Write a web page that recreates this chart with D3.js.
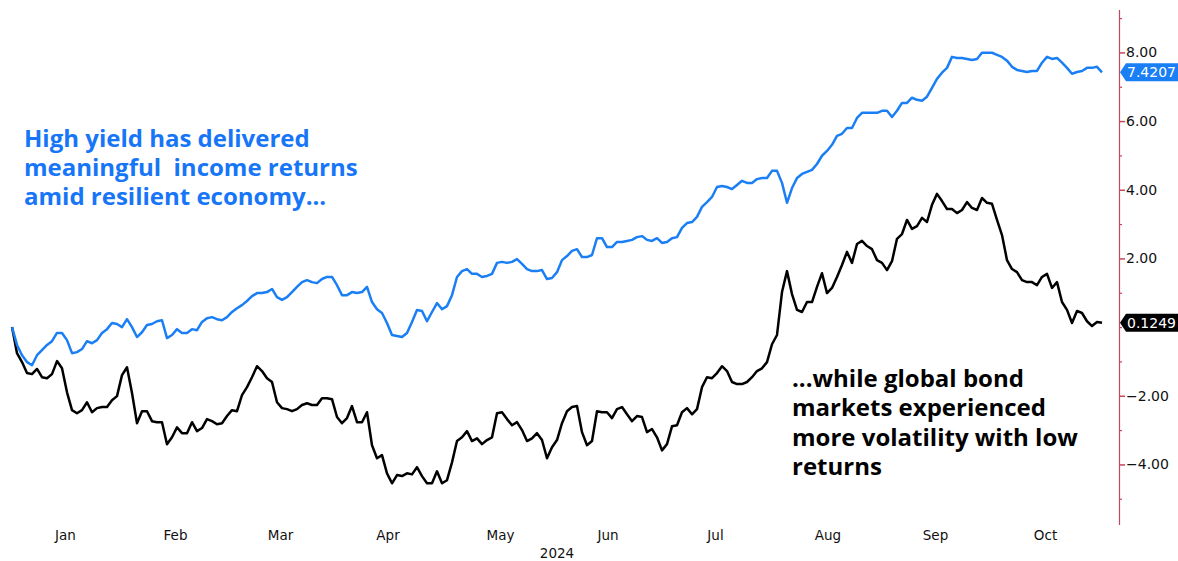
<!DOCTYPE html>
<html>
<head>
<meta charset="utf-8">
<script src="https://cdn.jsdelivr.net/npm/d3@7"></script>
<style>
  body { margin: 0; background: #fff; }
  svg { display: block; font-family: "DejaVu Sans", sans-serif; }
</style>
</head>
<body>
<div id="chart"></div>
<script>
// cumulative total return, %, one value per trading day from 1 Jan 2024
var highYield = [
  0, -0.52, -0.82, -1.02, -1.11, -0.82, -0.67, -0.52, -0.41, -0.17,
  -0.17, -0.38, -0.76, -0.73, -0.64, -0.41, -0.47, -0.38, -0.17, -0.06,
  0.12, 0.09, 0.00, 0.23, 0.00, -0.29, -0.15, 0.06, 0.09, 0.17,
  0.20, -0.32, -0.23, -0.06, -0.17, -0.17, -0.06, -0.09, 0.15, 0.26,
  0.29, 0.23, 0.20, 0.29, 0.44, 0.55, 0.64, 0.76, 0.90, 0.99,
  0.99, 1.02, 1.11, 0.87, 0.79, 0.87, 1.02, 1.17, 1.31, 1.37,
  1.31, 1.28, 1.40, 1.46, 1.46, 1.22, 0.93, 0.93, 1.02, 0.99,
  1.02, 1.17, 0.73, 0.52, 0.41, 0.12, -0.23, -0.26, -0.29, -0.17,
  0.15, 0.50, 0.47, 0.17, 0.44, 0.70, 0.52, 0.61, 0.93, 1.46,
  1.63, 1.69, 1.55, 1.55, 1.46, 1.49, 1.55, 1.87, 1.90, 1.87,
  1.90, 1.98, 1.84, 1.69, 1.63, 1.63, 1.66, 1.40, 1.43, 1.60,
  1.95, 2.07, 2.22, 2.27, 2.04, 2.04, 2.10, 2.59, 2.59, 2.33,
  2.33, 2.48, 2.48, 2.51, 2.54, 2.62, 2.65, 2.54, 2.51, 2.59,
  2.45, 2.48, 2.59, 2.62, 2.89, 3.03, 3.06, 3.21, 3.50, 3.64,
  3.79, 4.08, 4.11, 4.08, 4.02, 4.14, 4.26, 4.20, 4.20, 4.31,
  4.34, 4.34, 4.55, 4.55, 4.20, 3.62, 4.05, 4.34, 4.46, 4.52,
  4.58, 4.75, 4.99, 5.13, 5.31, 5.57, 5.63, 5.80, 5.80, 6.09,
  6.24, 6.24, 6.24, 6.24, 6.30, 6.30, 6.12, 6.30, 6.53, 6.53,
  6.68, 6.62, 6.59, 6.71, 6.97, 7.23, 7.41, 7.55, 7.87, 7.84,
  7.84, 7.81, 7.78, 7.81, 7.99, 7.99, 7.99, 7.93, 7.87, 7.76,
  7.58, 7.49, 7.46, 7.43, 7.46, 7.46, 7.70, 7.87, 7.81, 7.84,
  7.70, 7.55, 7.38, 7.43, 7.46, 7.55, 7.55, 7.58, 7.4207
]

var globalBonds = [
  0, -0.76, -1.02, -1.34, -1.37, -1.22, -1.46, -1.49, -1.37, -0.99,
  -1.20, -1.90, -2.42, -2.51, -2.42, -2.19, -2.48, -2.36, -2.33, -2.33,
  -2.13, -2.01, -1.40, -1.17, -1.92, -2.80, -2.45, -2.45, -2.74, -2.77,
  -2.77, -3.41, -3.21, -2.92, -3.09, -3.09, -2.77, -3.03, -2.94, -2.68,
  -2.74, -2.83, -2.80, -2.59, -2.42, -2.45, -1.98, -1.75, -1.46, -1.14,
  -1.28, -1.49, -1.60, -2.19, -2.36, -2.39, -2.45, -2.39, -2.27, -2.22,
  -2.27, -2.27, -2.07, -2.07, -2.10, -2.62, -2.80, -2.65, -2.30, -2.77,
  -2.77, -2.48, -3.44, -3.82, -3.73, -4.26, -4.55, -4.31, -4.34, -4.26,
  -4.29, -4.08, -4.34, -4.55, -4.55, -4.20, -4.55, -4.46, -3.94, -3.32,
  -3.21, -3.03, -3.32, -3.24, -3.41, -3.29, -3.21, -2.51, -2.48, -2.68,
  -2.86, -2.77, -3.00, -3.32, -3.24, -3.09, -3.29, -3.82, -3.50, -3.29,
  -2.80, -2.45, -2.33, -2.30, -3.06, -3.44, -3.32, -2.45, -2.48, -2.48,
  -2.65, -2.39, -2.33, -2.54, -2.74, -2.59, -2.62, -3.06, -2.97, -3.21,
  -3.59, -3.41, -2.89, -2.86, -2.48, -2.36, -2.54, -2.39, -1.75, -1.46,
  -1.49, -1.34, -1.14, -1.28, -1.60, -1.66, -1.66, -1.60, -1.46, -1.28,
  -1.20, -1.02, -0.50, -0.23, 1.02, 1.63, 0.96, 0.50, 0.44, 0.73,
  0.73, 1.17, 1.57, 0.99, 1.14, 1.46, 1.81, 2.19, 1.87, 2.42,
  2.51, 2.36, 2.27, 1.95, 1.87, 1.66, 1.92, 2.57, 2.71, 3.12,
  2.86, 2.94, 3.18, 3.06, 3.56, 3.88, 3.67, 3.44, 3.44, 3.32,
  3.41, 3.64, 3.47, 3.41, 3.76, 3.62, 3.59, 3.12, 2.68, 1.95,
  1.69, 1.60, 1.37, 1.31, 1.31, 1.22, 1.46, 1.55, 1.14, 1.31,
  0.73, 0.50, 0.12, 0.47, 0.41, 0.17, 0.03, 0.15, 0.1249
]

var monthLabels = ['Jan', 'Feb', 'Mar', 'Apr', 'May', 'Jun', 'Jul', 'Aug', 'Sep', 'Oct']
var yearLabel = '2024'
var majorTicks = [-4, -2, 2, 4, 6, 8]
var minorTicks = [-5, -3, -1, 1, 3, 5, 7, 9]

var hyNote = ['High yield has delivered', 'meaningful  income returns', 'amid resilient economy...']
var bondNote = ['...while global bond', 'markets experienced', 'more volatility with low', 'returns']

var blue = '#1a7ff4'
  , noteBlue = '#1776f7'
  , axisRed = '#c5465f'
  , labelFont = '"DejaVu Sans", sans-serif'

// trading days, Jan 1 2024 onwards
var days = d3.timeDay.range(new Date(2024, 0, 1), new Date(2024, 11, 31))
  .filter(function(d) { return d.getDay() > 0 && d.getDay() < 6 })
  .slice(0, highYield.length)

var width = 1178
  , height = 561
  , svg = d3.select('#chart').append('svg')
    .attr('width', width)
    .attr('height', height)
  , x = d3.scaleLinear()
    .domain([0, days.length - 1])
    .range([12, 1102])
  , y = d3.scaleLinear()
    .domain([-5.75, 9.25])
    .range([524.5, 9.5])

// month labels sit in the middle of each month's trading days
var monthCenters = monthLabels.map(function(m, i) {
  var idx = d3.range(days.length).filter(function(k) { return days[k].getMonth() === i })
  return d3.mean(idx)
})

var xAxis = svg.append('g')
  .attr('transform', 'translate(-2,527)')
  .call(d3.axisBottom(x)
    .tickValues(monthCenters)
    .tickSize(0)
    .tickPadding(3)
    .tickFormat(function(d, i) { return monthLabels[i] }))
xAxis.attr('font-family', labelFont).attr('font-size', 13.5)
xAxis.select('.domain').remove()
xAxis.selectAll('text').attr('fill', '#111')

svg.append('text')
  .attr('x', 557)
  .attr('y', 558)
  .attr('text-anchor', 'middle')
  .attr('font-family', labelFont)
  .attr('font-size', 13.5)
  .attr('fill', '#111')
  .text(yearLabel)

// right axis
var yAxis = svg.append('g')
  .attr('transform', 'translate(1119,0)')
  .call(d3.axisRight(y)
    .tickValues(majorTicks)
    .tickSize(6)
    .tickSizeOuter(0)
    .tickPadding(1)
    .tickFormat(d3.format('.2f')))
yAxis.attr('font-family', labelFont).attr('font-size', 14)
yAxis.select('.domain').attr('stroke', axisRed).attr('stroke-width', 1.2)
yAxis.selectAll('.tick line').attr('stroke', axisRed).attr('stroke-width', 1.5)
yAxis.selectAll('text').attr('fill', '#111')

var minorAxis = svg.append('g')
  .attr('transform', 'translate(1119,0)')
  .call(d3.axisRight(y)
    .tickValues(minorTicks.concat([0]))
    .tickSize(3)
    .tickSizeOuter(0)
    .tickFormat(''))
minorAxis.select('.domain').remove()
minorAxis.selectAll('.tick line').attr('stroke', axisRed).attr('stroke-width', 1.2)

// the two lines
var line = d3.line()
  .x(function(d, i) { return x(i) })
  .y(function(d) { return y(d) })

svg.append('path')
  .datum(globalBonds)
  .attr('d', line)
  .attr('fill', 'none')
  .attr('stroke', '#000')
  .attr('stroke-width', 2.5)
  .attr('stroke-linejoin', 'round')

svg.append('path')
  .datum(highYield)
  .attr('d', line)
  .attr('fill', 'none')
  .attr('stroke', blue)
  .attr('stroke-width', 2.5)
  .attr('stroke-linejoin', 'round')

// last value tags on the axis
function valueTag(value, fill) {
  var ty = y(value)
  svg.append('path')
    .attr('d', 'M1120,' + ty + ' L1126,' + (ty - 9) + ' L1178,' + (ty - 9) + ' L1178,' + (ty + 9) + ' L1126,' + (ty + 9) + ' Z')
    .attr('fill', fill)
  svg.append('text')
    .attr('x', 1127)
    .attr('y', ty)
    .attr('dy', '0.36em')
    .attr('font-family', labelFont)
    .attr('font-size', 14)
    .attr('fill', '#fff')
    .text(d3.format('.4f')(value))
}
valueTag(highYield[highYield.length - 1], blue)
valueTag(globalBonds[globalBonds.length - 1], '#000')

// annotations
function note(lines, left, top, color) {
  var t = svg.append('text')
    .attr('x', left)
    .attr('y', top)
    .attr('fill', color)
    .attr('font-family', '"Open Sans", sans-serif')
    .attr('font-weight', 'bold')
    .attr('font-size', 24)
    .style('white-space', 'pre')
  lines.forEach(function(s, i) {
    t.append('tspan')
      .attr('x', left)
      .attr('dy', i ? 29.3 : 0)
      .text(s)
  })
}
note(hyNote, 24, 146.5, noteBlue)
note(bondNote, 792, 387, '#000')
</script>
</body>
</html>
